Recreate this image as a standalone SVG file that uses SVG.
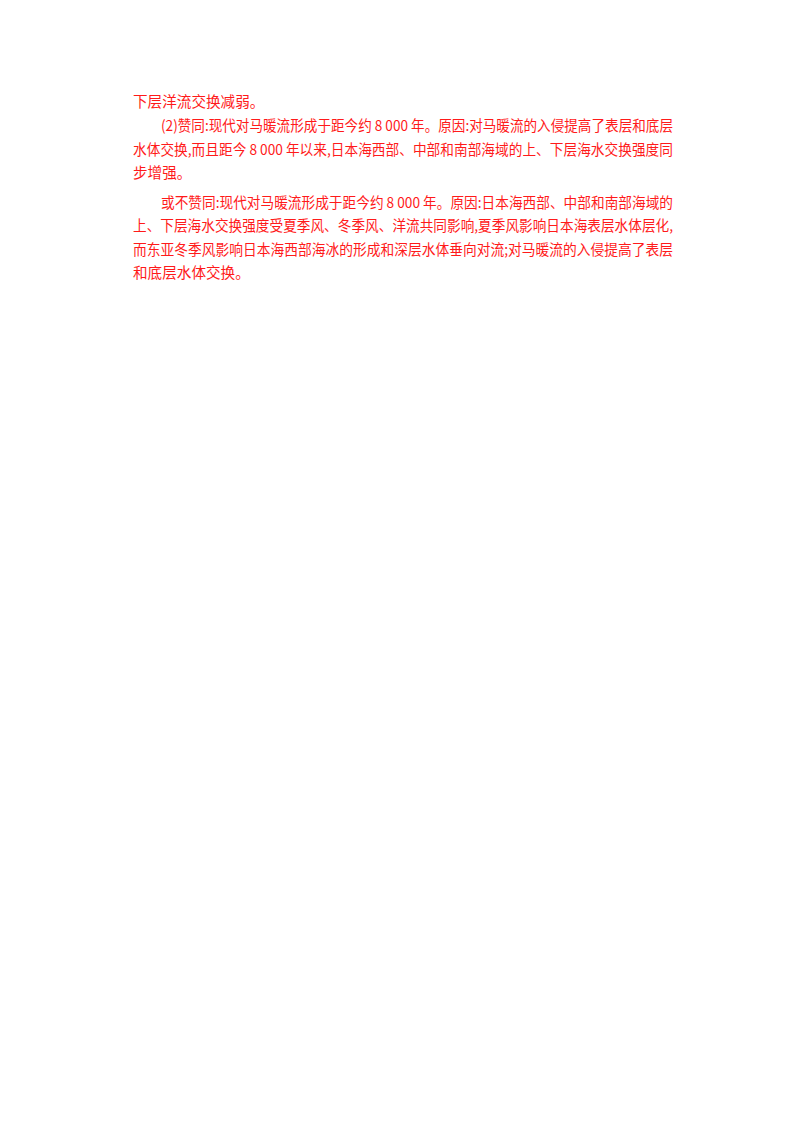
<svg xmlns="http://www.w3.org/2000/svg" width="800" height="1133" viewBox="0 0 800 1133">
<style>text{font-family:"Noto Sans CJK SC","Liberation Sans",sans-serif;font-size:14.6px;fill:#ff1a1a}</style>
<rect width="800" height="1133" fill="#fff"/>
<g id="text">
<text x="133" y="107">下层洋流交换减弱。</text>
<text x="161" y="131" textLength="512" lengthAdjust="spacingAndGlyphs">(2)赞同:现代对马暖流形成于距今约 8 000 年。原因:对马暖流的入侵提高了表层和底层</text>
<text x="133" y="155" textLength="540" lengthAdjust="spacingAndGlyphs">水体交换,而且距今 8 000 年以来,日本海西部、中部和南部海域的上、下层海水交换强度同</text>
<text x="133" y="178">步增强。</text>
<text x="161" y="208" textLength="512" lengthAdjust="spacingAndGlyphs">或不赞同:现代对马暖流形成于距今约 8 000 年。原因:日本海西部、中部和南部海域的</text>
<text x="133" y="231" textLength="540" lengthAdjust="spacingAndGlyphs">上、下层海水交换强度受夏季风、冬季风、洋流共同影响,夏季风影响日本海表层水体层化,</text>
<text x="133" y="255" textLength="540" lengthAdjust="spacingAndGlyphs">而东亚冬季风影响日本海西部海冰的形成和深层水体垂向对流;对马暖流的入侵提高了表层</text>
<text x="133" y="278">和底层水体交换。</text>
</g>
</svg>
